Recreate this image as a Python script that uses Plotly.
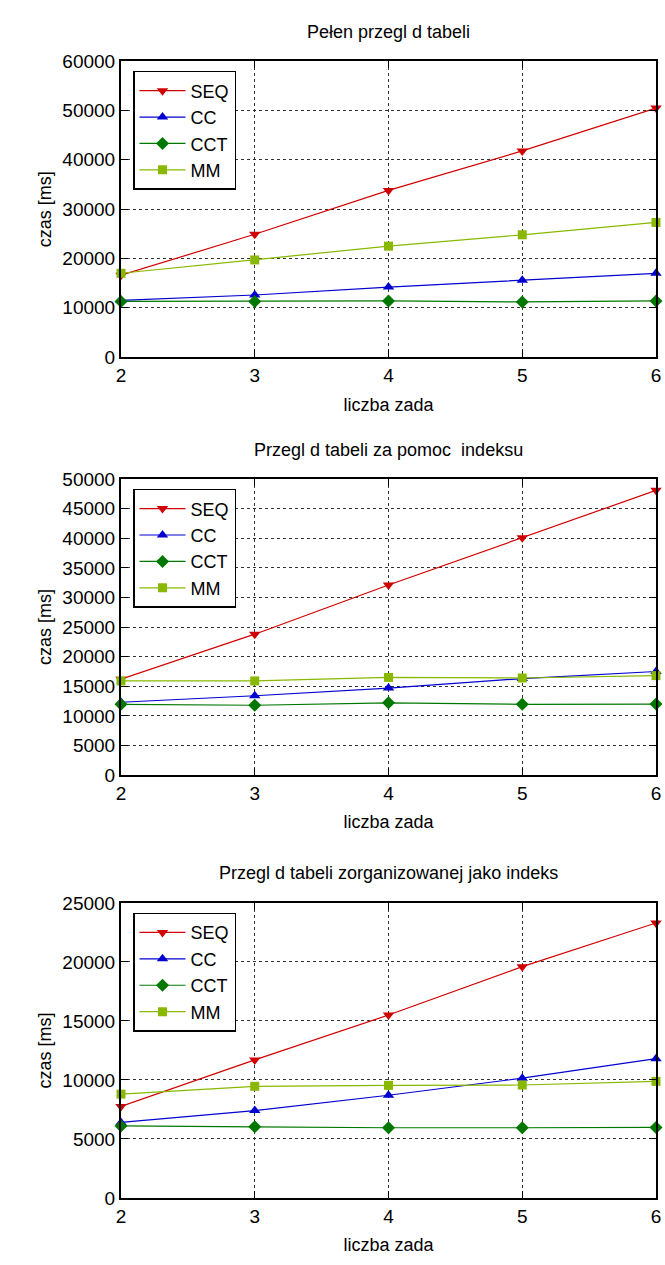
import plotly.graph_objects as go

x_vals = [2, 3, 4, 5, 6]
series_names = ["SEQ", "CC", "CCT", "MM"]

# Panel 1: Pełen przegląd tabeli
p1_seq = [16600, 24900, 33800, 41800, 50500]
p1_cc = [11500, 12600, 14200, 15600, 17000]
p1_cct = [11300, 11300, 11400, 11200, 11400]
p1_mm = [17000, 19700, 22500, 24800, 27300]

# Panel 2: Przegląd tabeli za pomocą indeksu
p2_seq = [16200, 23800, 32100, 40100, 48100]
p2_cc = [12300, 13400, 14700, 16300, 17500]
p2_cct = [11950, 11800, 12200, 11950, 12000]
p2_mm = [15900, 15900, 16500, 16400, 16800]

# Panel 3: Przegląd tabeli zorganizowanej jako indeks
p3_seq = [7750, 11700, 15500, 19600, 23300]
p3_cc = [6400, 7400, 8700, 10150, 11800]
p3_cct = [6100, 6030, 5950, 5950, 5980]
p3_mm = [8800, 9460, 9540, 9570, 9880]

titles = ["Pełen przegl d tabeli",
          "Przegl d tabeli za pomoc  indeksu",
          "Przegl d tabeli zorganizowanej jako indeks"]
x_title = "liczba zada"
y_title = "czas [ms]"
y_ranges = [[0, 60000], [0, 50000], [0, 25000]]
y_dticks = [10000, 5000, 5000]

colors = ["#d00000", "#0000d0", "#007800", "#88b800"]
symbols = ["triangle-down", "triangle-up", "diamond", "square"]

panels = [
    [p1_seq, p1_cc, p1_cct, p1_mm],
    [p2_seq, p2_cc, p2_cct, p2_mm],
    [p3_seq, p3_cc, p3_cct, p3_mm],
]

W, H = 665, 1265
L, R = 121, 9
tops = [52, 477, 908]
bottoms = [353, 778, 1208]

FONT = "Liberation Sans, Arial, sans-serif"

fig = go.Figure()
layout = dict(
    width=W, height=H,
    margin=dict(l=L, r=R, t=0, b=0),
    paper_bgcolor="white", plot_bgcolor="white",
    font=dict(family=FONT, size=18, color="black"),
    showlegend=True,
    annotations=[],
)

for i, data in enumerate(panels):
    xa = "x" if i == 0 else f"x{i+1}"
    ya = "y" if i == 0 else f"y{i+1}"
    lg = "legend" if i == 0 else f"legend{i+1}"
    for j, vals in enumerate(data):
        fig.add_trace(go.Scatter(
            x=x_vals, y=vals, name=series_names[j],
            mode="lines+markers",
            line=dict(color=colors[j], width=1.2),
            marker=dict(symbol=symbols[j], size=10 if j != 3 else 9, color=colors[j]),
            xaxis=xa, yaxis=ya, legend=lg, cliponaxis=False,
        ))
    d0 = 1 - bottoms[i] / H
    d1 = 1 - tops[i] / H
    axkey = "xaxis" if i == 0 else f"xaxis{i+1}"
    aykey = "yaxis" if i == 0 else f"yaxis{i+1}"
    layout[axkey] = dict(
        domain=[0, 1], anchor=ya, range=[2, 6], dtick=1, tick0=2,
        showline=True, linecolor="black", linewidth=2, mirror="ticks",
        ticks="inside", ticklen=7, tickcolor="black",
        showgrid=True, gridcolor="#333333", griddash="dot", gridwidth=1,
        zeroline=False, tickfont=dict(size=19),
        title=dict(text=x_title, font=dict(size=18), standoff=13),
    )
    layout[aykey] = dict(
        domain=[d0, d1], anchor=xa, range=y_ranges[i], dtick=y_dticks[i], tick0=0,
        showline=True, linecolor="black", linewidth=2, mirror="ticks",
        ticks="inside", ticklen=7, tickcolor="black",
        showgrid=True, gridcolor="#333333", griddash="dot", gridwidth=1,
        zeroline=False, tickfont=dict(size=19), tickformat="d",
        title=dict(text=y_title, font=dict(size=18), standoff=6),
    )
    layout[lg] = dict(
        x=(133 - L) / (W - L - R), y=1 - (tops[i] + 10) / H,
        xanchor="left", yanchor="top",
        bordercolor="black", borderwidth=1.5, bgcolor="white",
        font=dict(size=18), tracegroupgap=0, itemwidth=46,
    )
    layout["annotations"].append(dict(
        text=titles[i], xref="paper", yref="paper",
        x=0.5, y=1 - (tops[i] - 30) / H, xanchor="center", yanchor="middle",
        showarrow=False, font=dict(size=18),
    ))

fig.update_layout(**layout)
fig.write_html(
    "out.html",
    config={"displayModeBar": False},
    post_script="document.body.style.margin='0';document.body.style.overflow='hidden';",
)
